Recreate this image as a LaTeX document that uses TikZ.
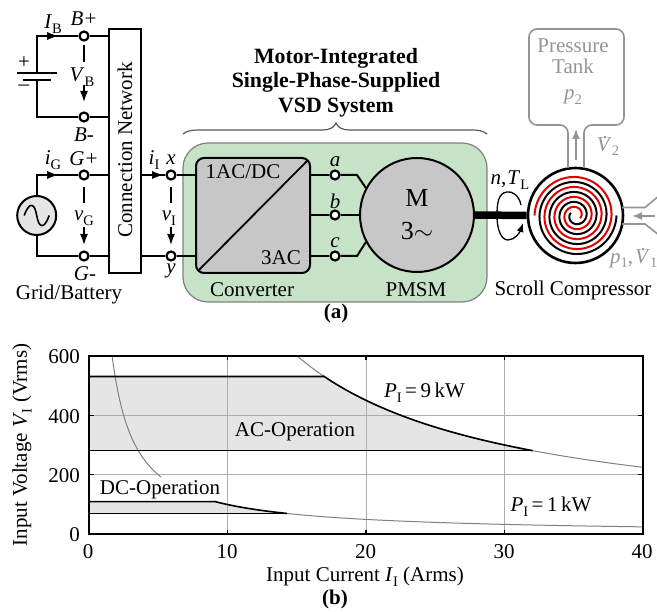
\documentclass[tikz,border=0pt]{standalone}
\usepackage{fontspec}
\setmainfont{Liberation Serif}
\usetikzlibrary{arrows.meta,calc}
\newcommand\sbs[1]{\raisebox{-0.22em}{\fontsize{14.5}{14.5}\selectfont #1}}
\newcommand\vi[1]{\textit{#1}}
\newcommand\vdt{\textit{V}\llap{\raisebox{0.62em}{\textit{.}\hspace{0.18em}}}}
\colorlet{tankgrey}{black!42}
\colorlet{gridgrey}{black!32}
\tikzset{
  every node/.style={font=\fontsize{21}{24}\selectfont,inner sep=0pt},
  wire/.style={line width=2pt},
  term/.style={circle,draw,fill=white,line width=2.2pt,minimum size=9pt,inner sep=0pt},
  arr/.style={line width=1.5pt,-{Latex[length=11pt,width=8pt]}},
  tail/.style={line width=1.3pt},
  tankline/.style={draw=tankgrey,line width=1.6pt},
  tanktext/.style={text=tankgrey},
  scrollb/.style={line width=2pt,black},
  scrollr/.style={line width=2pt,red!90!black},
  grid/.style={gridgrey,line width=1pt},
  bound/.style={line width=1.6pt},
  power/.style={black!50,line width=1pt},
}
\begin{document}
\begin{tikzpicture}[x=1pt,y=-1pt]
\useasboundingbox (0,0) rectangle (657,612);
% ---- green housing
\node[draw=black!50,fill=green!50!black!22!white,line width=1.2pt,rounded corners=25pt,minimum width=304pt,minimum height=159pt] (housing) at (335,222.5) {};
% ---- connection network
\node[draw,fill=white,line width=2pt,minimum width=32pt,minimum height=244pt] (cn) at (125,151) {};
\node[rotate=90] (cnt) at (125,150) {Connection Network};
% ---- terminals
\node[term] (bp) at (84,36) {};
\node[term] (bm) at (84,117) {};
\node[term] (gp) at (84,175) {};
\node[term] (gm) at (84,256) {};
\node[term] (ix) at (171,175) {};
\node[term] (iy) at (171,256) {};
\node[term] (ta) at (335,175) {};
\node[term] (tb) at (335,215) {};
\node[term] (tc) at (335,256) {};
% ---- battery
\coordinate (ctl) at (36.7,36);
\coordinate (cbl) at (36.7,117);
\coordinate (plA) at (36.7,73);
\coordinate (plB) at (36.7,80);
\draw[wire] (bp) -- (ctl) -- (plA);
\draw[wire] (plB) -- (cbl) -- (bm);
\draw[line width=2pt] ($(plA)+(-20,0)$) -- ($(plA)+(20,0)$);
\draw[line width=2pt] ($(plB)+(-14,0)$) -- ($(plB)+(14,0)$);
\node (plus) at (24,63) {+};
\node (minus) at (24,88) {--};
\draw[wire] (bp) -- (bp -| cn.west);
\draw[wire] (bm) -- (bm -| cn.west);
% ---- grid source
\node[circle,draw,fill=black!10,line width=2pt,minimum size=39pt] (src) at (36.7,215.5) {};
\coordinate (gtl) at (36.7,175);
\coordinate (gbl) at (36.7,256);
\draw[wire] (gp) -- (gtl) -- (src);
\draw[wire] (src) -- (gbl) -- (gm);
\draw[wire] (gp) -- (gp -| cn.west);
\draw[wire] (gm) -- (gm -| cn.west);
\draw[line width=1.6pt] ($(src)+(-12.5,0)$) .. controls ($(src)+(-7,-15)$) and ($(src)+(-2,-12)$) .. (src.center) .. controls ($(src)+(2,12)$) and ($(src)+(7,15)$) .. ($(src)+(12.5,0)$);
% ---- output wires
\draw[wire] (cn.east |- ix) -- (ix);
\draw[wire] (cn.east |- iy) -- (iy);
% ---- current arrows
\coordinate (ibtip) at (58,36);
\coordinate (igtip) at (58,175);
\coordinate (iitip) at (163,175);
\draw[-{Latex[length=11pt,width=8pt]},line width=0.5pt] ($(ibtip)+(-12,0)$) -- (ibtip);
\draw[-{Latex[length=11pt,width=8pt]},line width=0.5pt] ($(igtip)+(-12,0)$) -- (igtip);
\draw[-{Latex[length=11pt,width=8pt]},line width=0.5pt] ($(iitip)+(-12,0)$) -- (iitip);
% ---- voltage arrows
\draw[tail] ($(bp)+(0,9)$) -- ($(bp)+(0,26)$);
\draw[arr] ($(bm)+(0,-32)$) -- ($(bm)+(0,-15)$);
\draw[tail] ($(gp)+(0,12)$) -- ($(gp)+(0,28)$);
\draw[arr] ($(gm)+(0,-29)$) -- ($(gm)+(0,-11)$);
\draw[tail] ($(ix)+(0,12)$) -- ($(ix)+(0,28)$);
\draw[arr] ($(iy)+(0,-29)$) -- ($(iy)+(0,-11)$);
% ---- labels left
\node (lib) at (53,24) {\vi{I}\sbs{B}};
\node (lbp) at (84,19) {\vi{B+}};
\node (lvb) at (82,77) {\vi{V}\sbs{B}};
\node (lbm) at (84,135) {\vi{B-}};
\node (lig) at (53,160) {\vi{i}\sbs{G}};
\node (lgp) at (84,159) {\vi{G+}};
\node (lvg) at (84,218) {\vi{v}\sbs{G}};
\node (lgm) at (85,274) {\vi{G-}};
\node (lii) at (154,160) {\vi{i}\sbs{I}};
\node (lx) at (171,160) {\vi{x}};
\node (lvi) at (169,218) {\vi{v}\sbs{I}};
\node (ly) at (171,271) {\vi{y}};
\node (lgb) at (69,294) {Grid/Battery};
% ---- brace and title
\draw[black!65,line width=1.2pt] (183,134) .. controls (187,131) and (191,130) .. (198,130) -- (322,130) .. controls (329,130) and (334,128) .. (336,123) .. controls (338,128) and (343,130) .. (350,130) -- (472,130) .. controls (479,130) and (483,131) .. (487,134);
\node[align=center,font=\fontsize{21.8}{24.3}\selectfont\bfseries] (title) at (336,82.5) {Motor-Integrated\\Single-Phase-Supplied\\VSD System};
% ---- converter
\node[draw,fill=black!22,line width=2pt,rounded corners=8pt,minimum width=114pt,minimum height=115pt] (conv) at (253,215.5) {};
\draw[line width=1.8pt] ($(conv.south west)+(3,-3)$) -- ($(conv.north east)+(-3,3)$);
\draw[wire] (ix) -- (ix -| conv.west);
\draw[wire] (iy) -- (iy -| conv.west);
\draw[wire] (ta) -- (ta -| conv.east);
\draw[wire] (tb) -- (tb -| conv.east);
\draw[wire] (tc) -- (tc -| conv.east);
\node (l1ac) at (243,172) {1AC/DC};
\node (l3ac) at (281,258) {3AC};
\node (lconv) at (252,290) {Converter};
\node (la) at (335,162) {\vi{a}};
\node (lb) at (335,201) {\vi{b}};
\node (lc) at (335,243) {\vi{c}};
% ---- motor
\node[circle,draw,fill=black!22,line width=2pt,minimum size=114pt] (motor) at (417,215) {};
\coordinate (ka) at (357,175);
\coordinate (kc) at (357,256);
\draw[wire] (ta) -- (ka) -- (motor.152);
\draw[wire] (tc) -- (kc) -- (motor.208);
\draw[wire] (tb) -- (motor.west);
\node[font=\fontsize{26}{28}\selectfont] (lm) at (417,198) {M};
\node[font=\fontsize{26}{28}\selectfont] (l3) at (417,231) {3\(\sim\)};
\node (lpmsm) at (416,290) {PMSM};
% ---- torque arrow (behind shaft)
\draw[line width=1.3pt,-{Latex[length=9pt,width=7pt]}] (521,205) .. controls (519,195) and (512,191) .. (507,192) .. controls (498,193) and (497,204) .. (497,216) .. controls (497,229) and (501,240) .. (508,240) .. controls (515,240) and (520,232) .. (523,223);
% ---- compressor
\coordinate (scc) at (575.5,215.5);
\node[circle,draw,fill=white,line width=2.6pt,minimum size=95pt] (comp) at (scc) {};
\draw[line width=7.5pt] (motor.east) -- (comp.west);
\draw[scrollb] plot[domain=0:1290,samples=260] ({575.5+(41-\x/36)*cos(\x)},{215.5+(41-\x/36)*sin(\x)});
\draw[scrollr] plot[domain=0:1290,samples=260] ({575.5-(41-\x/36)*cos(\x)},{215.5-(41-\x/36)*sin(\x)});
\node (lnt) at (510,180) {\vi{n},\hspace{1pt}\vi{T}\sbs{L}};
\node (lsc) at (573,290) {Scroll Compressor};
% ---- tank
\coordinate (tn1) at (568,168);
\coordinate (tn2) at (584,168);
\draw[tankline,rounded corners=8pt] (tn1) -- (568,125) -- (529,125) -- (529,29) -- (624,29) -- (624,125) -- (584,125) -- (tn2);
\coordinate (tanka) at (576,160);
\coordinate (tankb) at (576,129);
\draw[draw=tankgrey,line width=1.8pt,-{Latex[length=10pt,width=8pt]}] (tanka) -- (tankb);
\node[tanktext] (lpt) at (573,46) {Pressure};
\node[tanktext] (ltk) at (573,66) {Tank};
\node[tanktext] (lp2) at (573,97) {\vi{p}\sbs{2}};
\node[tanktext] (lv2) at (608,146) {\vdt\sbs{2}};
% ---- inlet
\coordinate (in1) at (622,207.5);
\coordinate (in2) at (622,224);
\draw[tankline] (in1) -- (645,207.5) -- (660,195);
\draw[tankline] (in2) -- (645,224) -- (660,236);
\coordinate (ina) at (655,216);
\coordinate (inb) at (632,216);
\draw[draw=tankgrey,line width=1.8pt,-{Latex[length=10pt,width=8pt]}] (ina) -- (inb);
\node[tanktext,anchor=west] (lp1) at (610,258) {\vi{p}\sbs{1},\hspace{2pt}\vdt\sbs{1}};
\node[font=\fontsize{21}{24}\selectfont\bfseries] (lcapa) at (336,313) {(a)};
% ---- plot
\begin{scope}[shift={(89,534.3)},x=13.85pt,y=0.2977pt]
  \fill[black!10] (0,530) -- (16.98,530) -- plot[domain=16.98:32.03,samples=40] (\x,{9000/\x}) -- (32.03,281) -- (0,281) -- cycle;
  \fill[black!10] (0,110) -- (9.09,110) -- plot[domain=9.09:14.29,samples=20] (\x,{1000/\x}) -- (14.29,70) -- (0,70) -- cycle;
  \foreach \gx in {10,20,30} \draw[grid] (\gx,0) -- (\gx,600);
  \foreach \gy in {200,400} \draw[grid] (0,\gy) -- (40,\gy);
  \draw[power] plot[domain=15:40,samples=50] (\x,{9000/\x});
  \draw[power] plot[domain=14.29:40,samples=40] (\x,{1000/\x});
  \draw[power] plot[domain=1.67:5.2,samples=40] (\x,{1000/\x});
  \draw[bound] (0,530) -- (16.98,530) -- plot[domain=16.98:32.03,samples=40] (\x,{9000/\x});
  \draw[bound] (0,281) -- (32.03,281);
  \draw[bound] (0,110) -- (9.09,110) -- plot[domain=9.09:14.29,samples=20] (\x,{1000/\x});
  \draw[bound] (0,70) -- (14.29,70);
  \draw[line width=1.8pt] (0,0) rectangle (40,600);
  \foreach \gx in {10,20,30} {
    \draw[line width=1.4pt] (\gx,0) -- (\gx,16);
    \draw[line width=1.4pt] (\gx,600) -- (\gx,584);
  }
  \foreach \gy in {200,400} {
    \draw[line width=1.4pt] (0,\gy) -- (0.35,\gy);
    \draw[line width=1.4pt] (40,\gy) -- (39.65,\gy);
  }
\end{scope}
\node[anchor=east] (y600) at (80,357) {600};
\node[anchor=east] (y400) at (80,417) {400};
\node[anchor=east] (y200) at (80,476) {200};
\node[anchor=east] (y0) at (80,535) {0};
\node (x0) at (88,552) {0};
\node (x10) at (227,552) {10};
\node (x20) at (365.5,552) {20};
\node (x30) at (504,552) {30};
\node (x40) at (642,552) {40};
\node (xlab) at (365,577) {Input Current \vi{I}\sbs{I} (Arms)};
\node[rotate=90] (ylab) at (22,445) {Input Voltage \vi{V}\sbs{I} (Vrms)};
\node[font=\fontsize{21}{24}\selectfont\bfseries] (lcapb) at (335,599) {(b)};
\node (lac) at (295,432) {AC-Operation};
\node (ldc) at (160,490) {DC-Operation};
\node (lp9) at (424.5,393) {\vi{P}\sbs{I}\,=\,9\,kW};
\node (lp1k) at (551,507) {\vi{P}\sbs{I}\,=\,1\,kW};
\end{tikzpicture}
\end{document}
